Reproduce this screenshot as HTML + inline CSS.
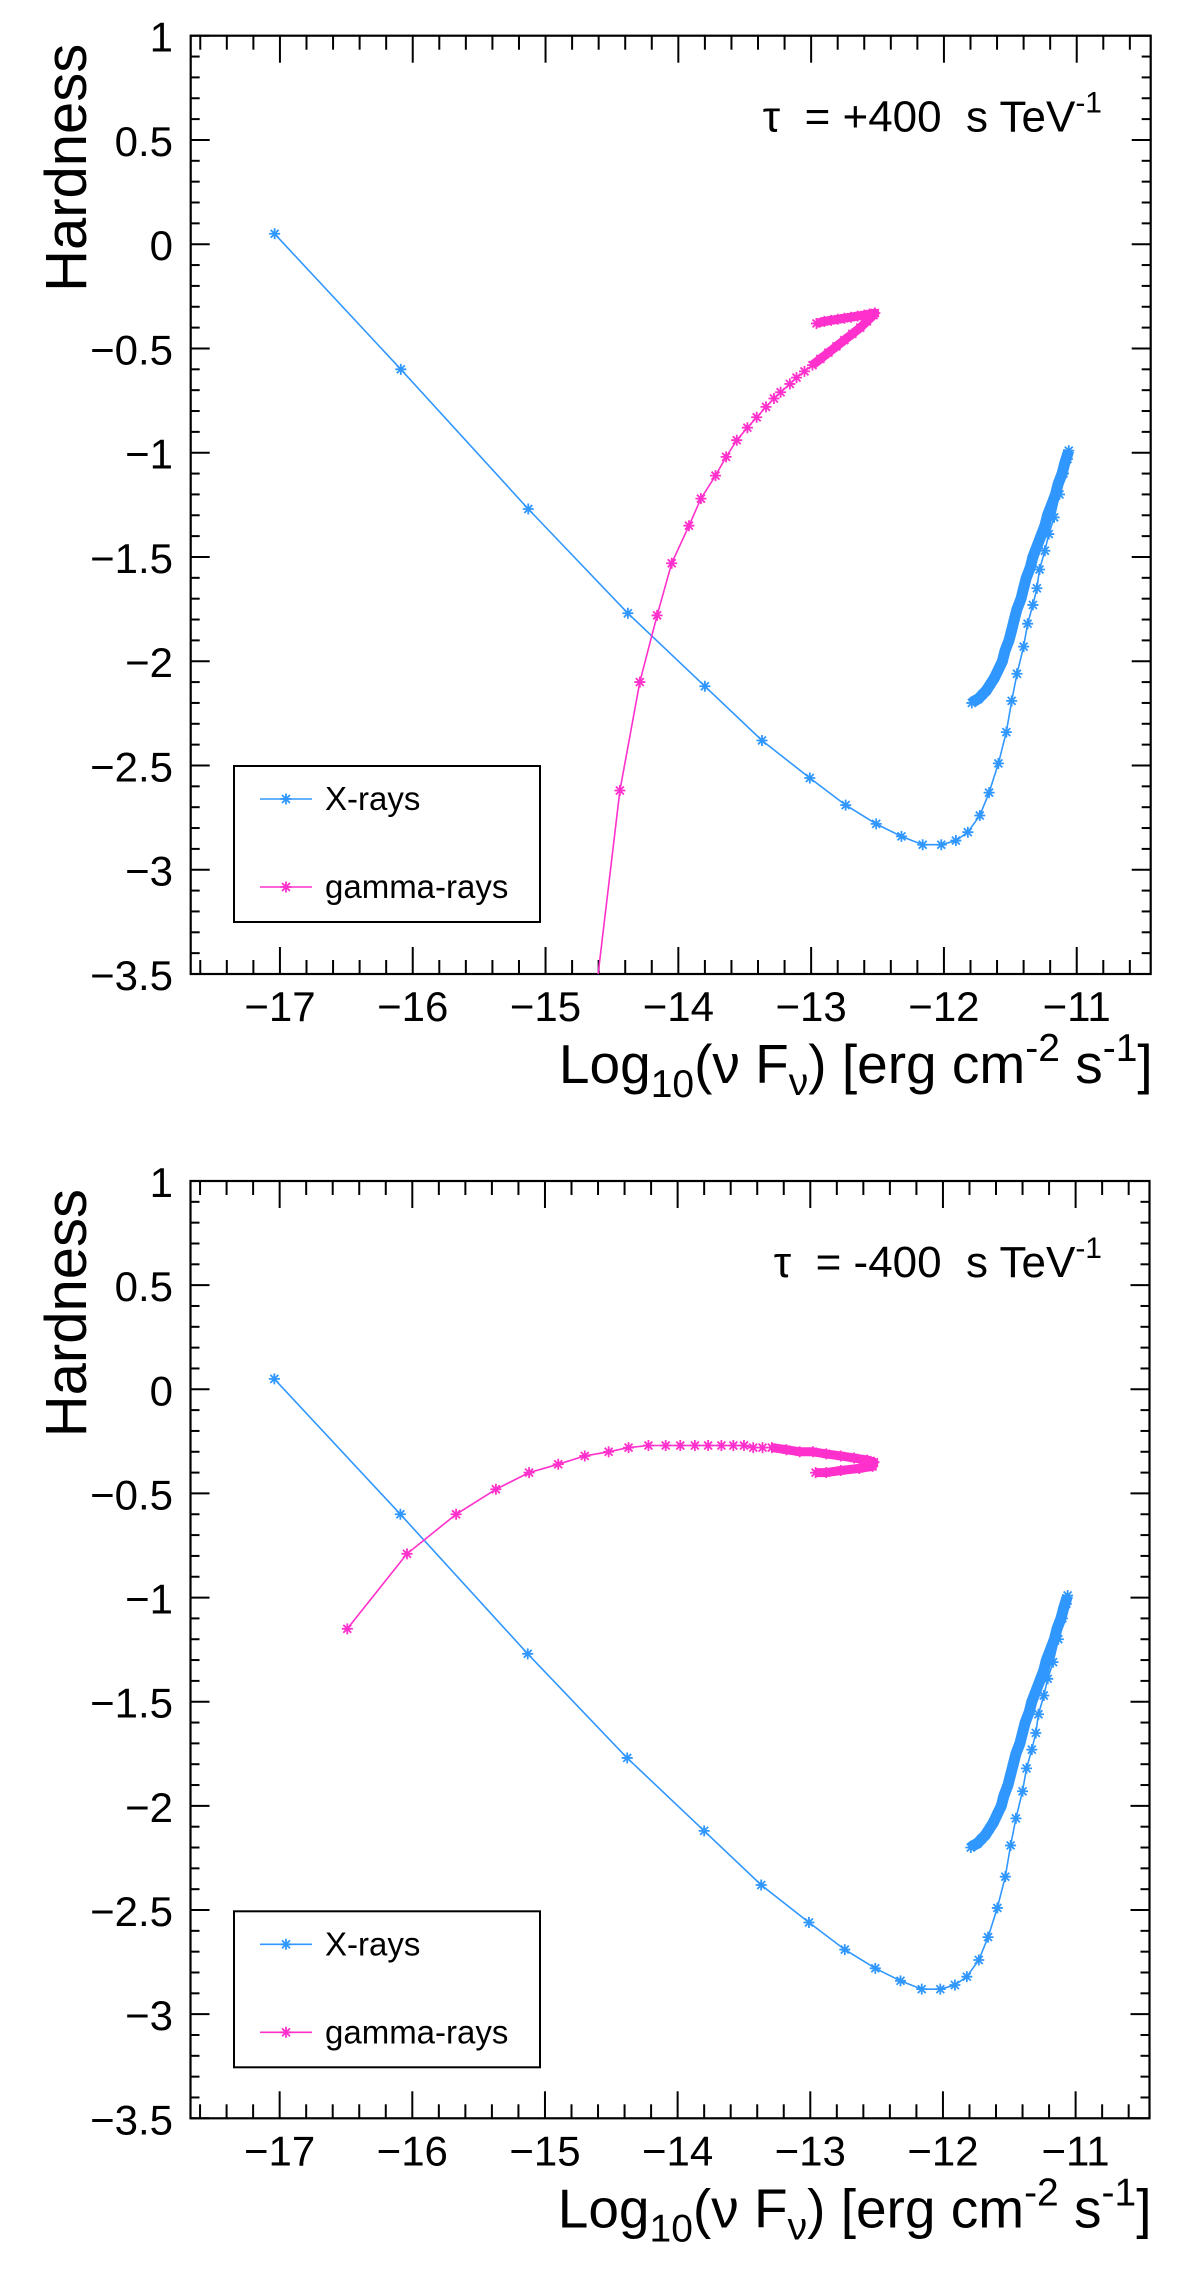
<!DOCTYPE html>
<html><head><meta charset="utf-8">
<style>
html,body{margin:0;padding:0;background:#fff;}
svg{display:block;font-family:"Liberation Sans",Arial,sans-serif;}
text{white-space:pre;}
</style></head>
<body>
<svg id="fig" width="1200" height="2274" viewBox="0 0 1200 2274" xmlns="http://www.w3.org/2000/svg"></svg>
<script>
// ---- data ----
const xTickLabels = ["−17","−16","−15","−14","−13","−12","−11"];
const xTickValues = [-17,-16,-15,-14,-13,-12,-11];
const yTickValues = [1,0.5,0,-0.5,-1,-1.5,-2,-2.5,-3,-3.5];
const yTickLabels = ["1","0.5","0","−0.5","−1","−1.5","−2","−2.5","−3","−3.5"];

// X-rays: sparse part then dense (band) part
const xrayX = [-17.04,-16.09,-15.13,-14.38,-13.80,-13.37,-13.01,-12.74,-12.51,-12.32,-12.16,-12.02,-11.91,-11.82,-11.73,-11.66,-11.59,-11.53,-11.49,-11.45,-11.40,-11.37,-11.33,-11.30,-11.28,-11.24,-11.21,-11.17,-11.13,-11.10,-11.07];
const xrayY = [0.05,-0.60,-1.27,-1.77,-2.12,-2.38,-2.56,-2.69,-2.78,-2.84,-2.88,-2.88,-2.86,-2.82,-2.74,-2.63,-2.49,-2.34,-2.19,-2.06,-1.93,-1.82,-1.73,-1.65,-1.56,-1.47,-1.39,-1.31,-1.20,-1.10,-1.03];
const xrayBandX = [-11.06,-11.09,-11.11,-11.14,-11.16,-11.19,-11.22,-11.24,-11.27,-11.30,-11.33,-11.35,-11.38,-11.40,-11.42,-11.45,-11.47,-11.49,-11.51,-11.54,-11.56,-11.59,-11.62,-11.65,-11.68,-11.71,-11.74,-11.77,-11.79];
const xrayBandY = [-0.99,-1.05,-1.10,-1.15,-1.20,-1.25,-1.30,-1.35,-1.40,-1.45,-1.50,-1.55,-1.60,-1.65,-1.70,-1.75,-1.80,-1.85,-1.90,-1.95,-2.00,-2.04,-2.08,-2.11,-2.14,-2.16,-2.18,-2.19,-2.20];

const gammaPlusX = [-14.66,-14.44,-14.29,-14.16,-14.05,-13.92,-13.83,-13.72,-13.64,-13.56,-13.48,-13.41,-13.34,-13.28,-13.23,-13.16,-13.11,-13.05];
const gammaPlusY = [-3.80,-2.62,-2.10,-1.78,-1.53,-1.35,-1.22,-1.11,-1.02,-0.94,-0.88,-0.83,-0.78,-0.74,-0.71,-0.67,-0.64,-0.61];
const gammaPlusBandX = [-12.99,-12.93,-12.87,-12.81,-12.75,-12.69,-12.63,-12.58,-12.53,-12.52,-12.56,-12.60,-12.65,-12.70,-12.75,-12.80,-12.85,-12.90,-12.96];
const gammaPlusBandY = [-0.58,-0.55,-0.52,-0.49,-0.46,-0.43,-0.40,-0.37,-0.34,-0.33,-0.335,-0.34,-0.345,-0.35,-0.355,-0.36,-0.365,-0.37,-0.38];

const gammaMinusX = [-16.49,-16.04,-15.67,-15.37,-15.12,-14.90,-14.70,-14.52,-14.37,-14.22,-14.09,-13.98,-13.87,-13.77,-13.67,-13.58,-13.50,-13.43,-13.36];
const gammaMinusY = [-1.15,-0.79,-0.60,-0.48,-0.40,-0.36,-0.32,-0.30,-0.28,-0.27,-0.27,-0.27,-0.27,-0.27,-0.27,-0.27,-0.27,-0.28,-0.28];
const gammaMinusBandX = [-13.29,-13.18,-13.08,-12.98,-12.88,-12.77,-12.67,-12.57,-12.52,-12.53,-12.63,-12.77,-12.88,-12.96];
const gammaMinusBandY = [-0.28,-0.29,-0.30,-0.30,-0.31,-0.32,-0.33,-0.34,-0.35,-0.37,-0.38,-0.39,-0.40,-0.40];

const BLUE = "#3097ff", PINK = "#ff30cc";
const NS = "http://www.w3.org/2000/svg";
const svg = document.getElementById("fig");
function mk(tag, attrs, parent){ const e=document.createElementNS(NS,tag); for(const k in attrs) e.setAttribute(k,attrs[k]); (parent||svg).appendChild(e); return e; }

function drawPanel(idx, top, bottom, left, right, tauText, gx, gy, gbx, gby){
  const g = mk("g",{});
  
  
  const xmin=-17.672, xmax=-10.443, ymin=-3.5, ymax=1;
  const sx = v => left + (v - xmin)/(xmax - xmin)*(right-left);
  const sy = v => bottom - (v - ymin)/(ymax - ymin)*(bottom-top);
  const cid = "clip"+idx;
  const cp = mk("clipPath",{id:cid}, g);
  mk("rect",{x:left,y:top,width:right-left,height:bottom-top}, cp);
  // ticks
  const tk = mk("g",{stroke:"#000","stroke-width":2}, g);
  
  
  for(let i=-88;i<=-52;i++){ const v=i/5; if(v<xmin||v>xmax) continue;
    const major = Math.abs(v-Math.round(v))<1e-6; const L = major?27:14; const x=sx(v);
    mk("line",{x1:x,y1:bottom,x2:x,y2:bottom-L},tk);
    mk("line",{x1:x,y1:top,x2:x,y2:top+L},tk);
  }
  for(let i=-35;i<=10;i++){ const v=i/10; const major = (i%5===0); const L=major?19:9; const y=sy(v);
    mk("line",{x1:left,y1:y,x2:left+L,y2:y},tk);
    mk("line",{x1:right,y1:y,x2:right-L,y2:y},tk);
  }
  const fr = mk("rect",{x:left,y:top,width:right-left,height:bottom-top,fill:"none",stroke:"#000","stroke-width":2.2}, g);
  
  
  // tick labels
  xTickValues.forEach((v,i)=>{ const t=mk("text",{x:sx(v),y:bottom+47,"font-size":42,"text-anchor":"middle",fill:"#000"},g); t.textContent=xTickLabels[i];
    
     });
  yTickValues.forEach((v,i)=>{ const t=mk("text",{x:173,y:sy(v)+16,"font-size":42,"text-anchor":"end",fill:"#000"},g); t.textContent=yTickLabels[i];
    
     });
  // axis titles
  const xt = mk("text",{x:right+2,y:bottom+109,"font-size":55,"text-anchor":"end",fill:"#000"},g);
  
  
  xt.innerHTML = 'Log<tspan font-size="39" dy="14">10</tspan><tspan dy="-14">(ν F</tspan><tspan font-size="39" dy="12">ν</tspan><tspan dy="-12">) [erg cm</tspan><tspan font-size="39" dy="-22">-2</tspan><tspan dy="22"> s</tspan><tspan font-size="39" dy="-22">-1</tspan><tspan dy="22">]</tspan>';
  const yt = mk("text",{x:0,y:0,"font-size":58,"text-anchor":"end",fill:"#000",transform:`translate(86,${top+8}) rotate(-90)`},g);
  yt.textContent="Hardness";
  
  
  // tau label
  const tau = mk("text",{x:1102,y:top+96,"font-size":44,"text-anchor":"end",fill:"#000"},g);
  
  
  tau.innerHTML = 'τ  = '+tauText+'  s TeV<tspan font-size="30" dy="-19">-1</tspan>';
  function star(p, x, y, color){
    const r=5.5, d=r*0.72;
    const s = mk("path",{d:`M${x-r},${y}h${2*r}M${x},${y-r}v${2*r}M${x-d},${y-d}l${2*d},${2*d}M${x-d},${y+d}l${2*d},${-2*d}`,stroke:color,"stroke-width":1.8,fill:"none"},p);
    
    
  }
  function series(xs, ys, bx, by, color, name, bandW){
    const sg = mk("g",{"clip-path":`url(#${cid})`}, g);
    
    
    const ax = xs.concat(bx), ay = ys.concat(by);
    const pts = ax.map((v,i)=> sx(v).toFixed(1)+","+sy(ay[i]).toFixed(1)).join(" ");
    mk("polyline",{points:pts,fill:"none",stroke:color,"stroke-width":1.6},sg);
    const bpts = bx.map((v,i)=> sx(v).toFixed(1)+","+sy(by[i]).toFixed(1)).join(" ");
    const band = mk("polyline",{points:bpts,fill:"none",stroke:color,"stroke-width":bandW,"stroke-linejoin":"round","stroke-linecap":"butt"},sg);
    
    
    ax.forEach((v,i)=>{ star(sg, sx(v), sy(ay[i]), color); });
  }
  series(xrayX, xrayY, xrayBandX, xrayBandY, BLUE, "xray-series", 11);
  series(gx, gy, gbx, gby, PINK, "gamma-series", 9);
  // legend
  const ly = top + 730.3;
  const lg = mk("g",{}, g);
  
  
  mk("rect",{x:234,y:ly,width:306,height:156,fill:"#fff",stroke:"#000","stroke-width":2},lg);
  [[BLUE,"X-rays",33],[PINK,"gamma-rays",121]].forEach(([c,lab,dy])=>{
    const e = mk("g",{},lg);
    
    
    mk("line",{x1:260,y1:ly+dy,x2:312,y2:ly+dy,stroke:c,"stroke-width":1.6},e);
    star(e,286,ly+dy,c);
    const t = mk("text",{x:325,y:ly+dy+11,"font-size":33,fill:"#000"},e); t.textContent=lab;
  });
}
drawPanel(1, 35.7, 974, 190.7, 1150.7, "+400", gammaPlusX, gammaPlusY, gammaPlusBandX, gammaPlusBandY);
drawPanel(2, 1181, 2118.3, 190.5, 1149.5, "-400", gammaMinusX, gammaMinusY, gammaMinusBandX, gammaMinusBandY);
</script>
</body></html>
